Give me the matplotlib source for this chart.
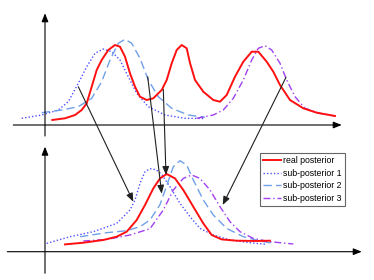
import matplotlib
matplotlib.use("Agg")
import matplotlib.pyplot as plt
from matplotlib.patches import ConnectionPatch

plt.rcParams['font.family'] = ['Liberation Sans', 'DejaVu Sans']

# ---------------- data (x position, height above baseline) ----------------
# top panel
top_real_x = [52.3, 65, 75, 81.7, 86.7, 91.7, 96.7, 101.7, 108.3, 115, 120, 125, 130, 135, 140, 146.7,
              153.3, 161.7, 166.7, 171.7, 176.7, 181.7, 186.7, 190, 195, 203.3, 213.3, 220, 226.7, 235,
              243.3, 251.7, 258.3, 266.7, 273.3, 280, 290, 303.3, 316.7, 335]
top_real_y = [5, 6.7, 10, 15, 21.7, 38.3, 55, 65, 75, 80, 78.3, 68.3, 51.7, 38.3, 28.3, 25,
              26.7, 35, 45, 61.7, 75, 80, 76.7, 62, 45, 33.3, 25, 23.3, 30, 48.3,
              63.3, 73.3, 73.3, 63.3, 53.3, 40, 25, 16.7, 12.3, 9]

top_sub1_x = [21.7, 41.7, 58.3, 68.3, 78.3, 86.7, 95, 103.3, 111.7, 120, 128.3, 136.7, 148.3, 165, 185, 205]
top_sub1_y = [6.7, 10, 15, 23.3, 41.7, 58.3, 71.7, 76, 73.3, 65, 48.3, 31.7, 18.3, 10, 6.7, 6.5]

top_sub2_x = [41.7, 61.7, 78.3, 91.7, 101.7, 110, 118.3, 125, 131.7, 140, 148.3, 158.3, 171.7, 188.3, 205]
top_sub2_y = [12.3, 15, 18.3, 26.7, 43.3, 65, 81.7, 85.7, 81.7, 66.7, 45, 28.3, 16.7, 10, 7.7]

top_sub3_x = [196.7, 213.3, 223.3, 233.3, 243.3, 251.7, 258.3, 265, 271.7, 280, 286.7, 295, 305, 320, 335]
top_sub3_y = [6.7, 10, 15, 26.7, 45, 65, 76.7, 79.3, 75, 61.7, 45, 28.3, 16.7, 11.7, 9]

# bottom panel
bot_real_x = [65, 83.3, 103.3, 116.7, 126.7, 136.7, 145, 153.3, 160, 166.7, 175, 183.3, 193.3, 203.3,
              211.7, 221.7, 236.7, 256.7, 270]
bot_real_y = [7.3, 9, 11.7, 15, 20, 31.7, 46.7, 63.3, 73.3, 77.7, 73.3, 61.7, 45, 28.3,
              16.7, 12.3, 11, 10.7, 11]

bot_sub1_x = [46.7, 70, 93.3, 116.7, 130, 135, 140, 145, 150, 156, 162, 170, 180, 190, 200, 213.3,
              230, 250, 266.7]
bot_sub1_y = [8.3, 15, 20, 28.3, 41.7, 51.7, 68.3, 80, 83, 82, 77, 65, 48.3, 35, 23.3, 16.7,
              11.7, 9, 7.3]

bot_sub2_x = [80, 106.7, 126.7, 140, 150, 160, 166.7, 173.3, 180, 186.7, 193.3, 203.3, 213.3, 226.7,
              243.3, 260, 273.3]
bot_sub2_y = [15, 19, 21, 25, 31.7, 47, 66, 85, 91, 86.7, 71.7, 51.7, 36.7, 23.3,
              15, 10.7, 8.3]

bot_sub3_x = [83.3, 106.7, 130, 150, 163.3, 173.3, 183.3, 191.7, 200, 210, 220, 230, 240, 253.3, 270, 293.3]
bot_sub3_y = [10.7, 12.3, 16.7, 23, 41.7, 61.7, 73.3, 76.7, 73.3, 61.7, 45, 30, 20, 13.3, 10, 7.7]

# mapping arrows: start in top panel -> end in bottom panel
arrow_start = [(78.3, 38.3), (147.7, 48.3), (163.3, 35.7), (286, 47.7)]
arrow_end = [(133.3, 50), (161.7, 58), (166, 76.7), (222.7, 46.7)]

labels = ["real posterior", "sub-posterior 1", "sub-posterior 2", "sub-posterior 3"]

# ---------------- styles ----------------
c_real = "#ff1010"
c_sub1 = "#5050ff"
c_sub2 = "#70a0e8"
c_sub3 = "#a040f0"

fig = plt.figure(figsize=(3.74, 2.8), dpi=100)
ax_top = fig.add_axes([0, 0.5, 1, 0.5])
ax_bot = fig.add_axes([0, 0, 1, 0.5])
ax_top.set_xlim(0, 374)
ax_top.set_ylim(-15, 125)
ax_bot.set_xlim(0, 374)
ax_bot.set_ylim(-28.3, 111.7)
for ax in (ax_top, ax_bot):
    ax.axis('off')

def draw(ax, rx, ry, s1x, s1y, s2x, s2y, s3x, s3y):
    h1, = ax.plot(s1x, s1y, color=c_sub1, lw=1.0, ls=(0, (1, 1.5)))
    h2, = ax.plot(s2x, s2y, color=c_sub2, lw=1.0, ls=(0, (6, 3)))
    h3, = ax.plot(s3x, s3y, color=c_sub3, lw=1.0, ls=(0, (5, 2, 1, 2)))
    h0, = ax.plot(rx, ry, color=c_real, lw=1.4, solid_joinstyle='round')
    return [h0, h1, h2, h3]

draw(ax_top, top_real_x, top_real_y, top_sub1_x, top_sub1_y, top_sub2_x, top_sub2_y, top_sub3_x, top_sub3_y)
handles = draw(ax_bot, bot_real_x, bot_real_y, bot_sub1_x, bot_sub1_y, bot_sub2_x, bot_sub2_y, bot_sub3_x, bot_sub3_y)

# axes with arrows
ap = dict(arrowstyle='-|>,head_length=0.5,head_width=0.2', color='black', lw=0.8, shrinkA=0, shrinkB=0)
ax_top.annotate('', xy=(341.7, 0), xytext=(13.3, 0), arrowprops=ap, annotation_clip=False)
ax_top.annotate('', xy=(45, 111.7), xytext=(45, -11), arrowprops=ap, annotation_clip=False)
ax_bot.annotate('', xy=(361.7, 0), xytext=(7.3, 0), arrowprops=ap, annotation_clip=False)
ax_bot.annotate('', xy=(45, 105), xytext=(45, -21.6), arrowprops=ap, annotation_clip=False)

# mapping arrows between panels
for s, e in zip(arrow_start, arrow_end):
    cp = ConnectionPatch(xyA=s, coordsA=ax_top.transData, xyB=e, coordsB=ax_bot.transData,
                         arrowstyle='-|>,head_length=0.5,head_width=0.2', color='#202020', lw=0.8,
                         shrinkA=0, shrinkB=0)
    fig.add_artist(cp)

leg = ax_bot.legend(handles, labels, loc='upper left', bbox_to_anchor=(260 / 374, 1 - 13.3 / 140),
                    fontsize=6.3, frameon=True, fancybox=False, handlelength=2.0, handletextpad=0.3,
                    labelspacing=0.4, borderpad=0.35, borderaxespad=0)
leg.get_frame().set_edgecolor('#404040')
leg.get_frame().set_linewidth(0.8)

fig.savefig("out.png", dpi=100)
